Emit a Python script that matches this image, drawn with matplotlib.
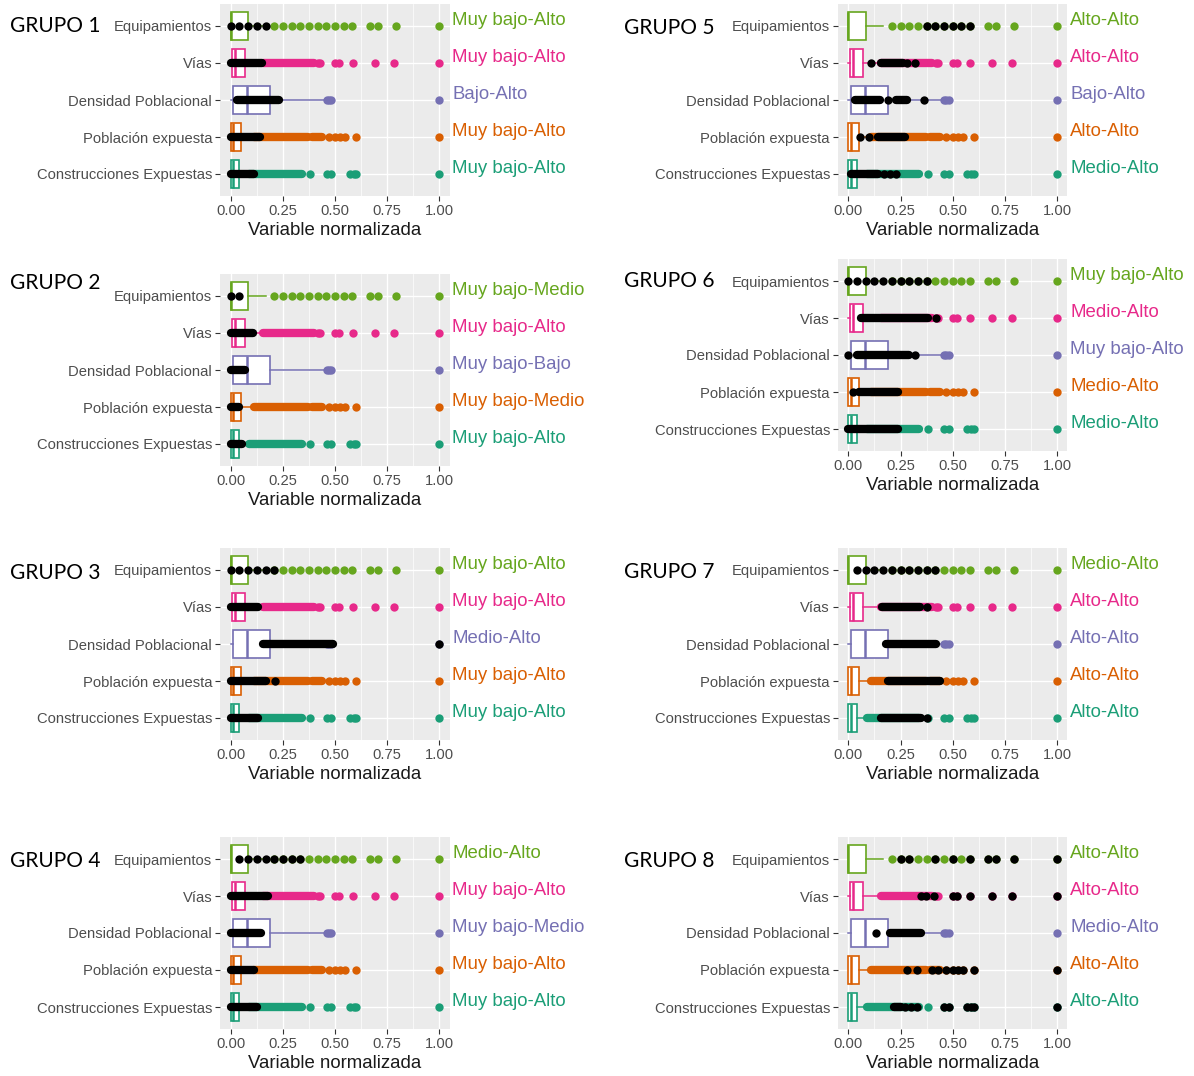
import matplotlib
matplotlib.use('Agg')
import matplotlib.pyplot as plt
from matplotlib.ticker import MultipleLocator

# variables (top to bottom) and their colours (Dark2)
variables = ["Equipamientos", "Vías", "Densidad Poblacional",
             "Población expuesta", "Construcciones Expuestas"]
var_colors = ["#66A61E", "#E7298A", "#7570B3", "#D95F02", "#1B9E77"]

# boxplot statistics of the normalised variables
box_q1 = [0.0, 0.008, 0.01, 0.0, 0.0]
box_med = [0.0, 0.02, 0.08, 0.01, 0.01]
box_q3 = [0.085, 0.07, 0.19, 0.05, 0.04]
whisk_lo = [0.0, 0.0, 0.0, 0.0, 0.0]
whisk_hi = [0.167, 0.15, 0.45, 0.11, 0.09]

# outliers: single values and dense stretches (start, end)
out_dots = [
    [0.208, 0.25, 0.292, 0.333, 0.375, 0.417, 0.458, 0.5, 0.542, 0.583,
     0.667, 0.708, 0.792, 1.0],
    [0.42, 0.43, 0.50, 0.52, 0.585, 0.69, 0.785, 1.0],
    [0.46, 0.47, 0.48, 1.0],
    [0.47, 0.50, 0.525, 0.55, 0.60, 1.0],
    [0.38, 0.46, 0.48, 0.57, 0.59, 0.60, 1.0],
]
out_runs = [
    [],
    [(0.155, 0.40)],
    [],
    [(0.11, 0.37), (0.39, 0.44)],
    [(0.09, 0.34)],
]

# members of each group (black): single values and dense stretches
g1_dots = [[0.0, 0.042, 0.083, 0.125, 0.167], [], [], [], []]
g1_runs = [[], [(0.0, 0.15)], [(0.03, 0.23)], [(0.0, 0.14)], [(0.0, 0.11)]]

g2_dots = [[0.0, 0.042], [], [], [], []]
g2_runs = [[], [(0.0, 0.105)], [(0.0, 0.07)], [(0.0, 0.04)], [(0.0, 0.055)]]

g3_dots = [[0.0, 0.042, 0.083, 0.125, 0.167, 0.208], [], [1.0], [0.21], []]
g3_runs = [[], [(0.0, 0.13)], [(0.155, 0.49)], [(0.0, 0.17)], [(0.0, 0.13)]]

g4_dots = [[0.042, 0.083, 0.125, 0.167, 0.208, 0.25, 0.292, 0.333], [], [], [], []]
g4_runs = [[], [(0.0, 0.18)], [(0.0, 0.145)], [(0.0, 0.11)], [(0.0, 0.125)]]

g5_dots = [[0.375, 0.417, 0.458, 0.5, 0.542, 0.583], [0.11, 0.28, 0.32],
           [0.19, 0.36], [0.055, 0.1], [0.17, 0.2, 0.23]]
g5_runs = [[], [(0.155, 0.26)], [(0.03, 0.15), (0.23, 0.28)],
           [(0.14, 0.27)], [(0.01, 0.14)]]

g6_dots = [[0.0, 0.042, 0.083, 0.125, 0.167, 0.208, 0.25, 0.292, 0.333, 0.375],
           [0.42], [0.0, 0.32], [0.02], []]
g6_runs = [[], [(0.06, 0.38)], [(0.04, 0.29)], [(0.05, 0.24)], [(0.0, 0.24)]]

g7_dots = [[0.042, 0.083, 0.125, 0.167, 0.208, 0.25, 0.292, 0.333, 0.375, 0.417],
           [0.375], [], [], [0.375]]
g7_runs = [[], [(0.16, 0.345)], [(0.18, 0.42)], [(0.19, 0.44)], [(0.155, 0.35)]]

g8_dots = [[0.25, 0.292, 0.417, 0.5, 0.583, 0.667, 0.708, 0.792, 1.0],
           [0.35, 0.37, 0.41, 0.5, 0.52, 0.585, 0.69, 0.785, 1.0],
           [0.13],
           [0.28, 0.33, 0.4, 0.43, 0.47, 0.5, 0.525, 0.55, 0.6, 1.0],
           [0.27, 0.3, 0.33, 0.46, 0.48, 0.57, 0.59, 0.6, 1.0]]
g8_runs = [[], [], [(0.2, 0.35)], [], [(0.22, 0.25)]]

# class labels shown at the right of each variable
g1_labels = ["Muy bajo-Alto", "Muy bajo-Alto", "Bajo-Alto", "Muy bajo-Alto", "Muy bajo-Alto"]
g2_labels = ["Muy bajo-Medio", "Muy bajo-Alto", "Muy bajo-Bajo", "Muy bajo-Medio", "Muy bajo-Alto"]
g3_labels = ["Muy bajo-Alto", "Muy bajo-Alto", "Medio-Alto", "Muy bajo-Alto", "Muy bajo-Alto"]
g4_labels = ["Medio-Alto", "Muy bajo-Alto", "Muy bajo-Medio", "Muy bajo-Alto", "Muy bajo-Alto"]
g5_labels = ["Alto-Alto", "Alto-Alto", "Bajo-Alto", "Alto-Alto", "Medio-Alto"]
g6_labels = ["Muy bajo-Alto", "Medio-Alto", "Muy bajo-Alto", "Medio-Alto", "Medio-Alto"]
g7_labels = ["Medio-Alto", "Alto-Alto", "Alto-Alto", "Alto-Alto", "Alto-Alto"]
g8_labels = ["Alto-Alto", "Alto-Alto", "Medio-Alto", "Alto-Alto", "Alto-Alto"]

group_names = ["GRUPO 1", "GRUPO 2", "GRUPO 3", "GRUPO 4",
               "GRUPO 5", "GRUPO 6", "GRUPO 7", "GRUPO 8"]

grupos = [
    (g1_dots, g1_runs, g1_labels), (g2_dots, g2_runs, g2_labels),
    (g3_dots, g3_runs, g3_labels), (g4_dots, g4_runs, g4_labels),
    (g5_dots, g5_runs, g5_labels), (g6_dots, g6_runs, g6_labels),
    (g7_dots, g7_runs, g7_labels), (g8_dots, g8_runs, g8_labels),
]

# layout in pixels
W, H = 1194, 1076
ROW = 37.0
AX_H = 5.2 * ROW
AX_W = 229.4
col_left = [220.3, 220.3, 220.3, 220.3, 838.0, 838.0, 838.0, 838.0]
first_row = [26, 296, 570, 859, 26, 281, 570, 859]
title_y = [26, 283, 573, 861, 28, 281, 572, 861]
title_x = [10, 10, 10, 10, 624, 624, 624, 624]

DOT = 6.0  # point diameter in pt

plt.rcParams['font.family'] = ['Liberation Sans', 'DejaVu Sans']

fig = plt.figure(figsize=(W / 100, H / 100), dpi=100)


def draw_values(ax, dots, runs, color, z):
    for i in range(len(variables)):
        for a, b in runs[i]:
            ax.plot([a, b], [i, i], color=color, lw=DOT,
                    solid_capstyle='round', zorder=z)
        if dots[i]:
            ax.plot(dots[i], [i] * len(dots[i]), 'o', color=color,
                    ms=DOT, mew=0, zorder=z)


for k, (dots, runs, labels) in enumerate(grupos):
    top = first_row[k] - 0.6 * ROW
    ax = fig.add_axes([col_left[k] / W, 1 - (top + AX_H) / H, AX_W / W, AX_H / H])
    ax.set_facecolor('#EBEBEB')
    for s in ax.spines.values():
        s.set_visible(False)

    stats = []
    for i in range(len(variables)):
        stats.append(dict(med=box_med[i], q1=box_q1[i], q3=box_q3[i],
                          whislo=whisk_lo[i], whishi=whisk_hi[i], fliers=[]))
    bp = ax.bxp(stats, positions=range(len(variables)), widths=0.75,
                orientation='horizontal', patch_artist=True,
                showcaps=False, showfliers=False, manage_ticks=False,
                zorder=3)
    for i, c in enumerate(var_colors):
        bp['boxes'][i].set_facecolor('white')
        bp['boxes'][i].set_edgecolor(c)
        bp['boxes'][i].set_linewidth(1.2)
        bp['medians'][i].set_color(c)
        bp['medians'][i].set_linewidth(1.8)
        for w in bp['whiskers'][2 * i:2 * i + 2]:
            w.set_color(c)
            w.set_linewidth(1.1)

    # outliers of the whole data set, then the members of the group
    for i, c in enumerate(var_colors):
        one_dots = [[] for _ in variables]
        one_runs = [[] for _ in variables]
        one_dots[i] = out_dots[i]
        one_runs[i] = out_runs[i]
        draw_values(ax, one_dots, one_runs, c, 4)
    draw_values(ax, dots, runs, 'black', 5)

    ax.set_xlim(-0.05, 1.05)
    ax.set_ylim(len(variables) - 0.4, -0.6)
    ax.set_yticks(range(len(variables)))
    ax.set_yticklabels(variables)
    ax.xaxis.set_major_locator(MultipleLocator(0.25))
    ax.xaxis.set_minor_locator(MultipleLocator(0.125))
    ax.set_xticks([0, 0.25, 0.5, 0.75, 1.0])
    ax.set_xticklabels(['0.00', '0.25', '0.50', '0.75', '1.00'])
    ax.grid(True, which='major', color='white', lw=1.0, zorder=0)
    ax.grid(True, which='minor', axis='x', color='white', lw=0.5, zorder=0)
    ax.set_axisbelow(True)
    ax.tick_params(axis='both', which='major', length=3.3, width=0.8,
                   color='#333333', labelcolor='#4D4D4D', labelsize=10.6, pad=2.5)
    ax.tick_params(axis='both', which='minor', length=0)
    ax.set_xlabel('Variable normalizada', fontsize=13.4, color='#1A1A1A', labelpad=3)

    for i, lab in enumerate(labels):
        ax.annotate(lab, xy=(1.0, i), xycoords=('axes fraction', 'data'),
                    xytext=(2, 4.3), textcoords='offset points',
                    ha='left', va='center', fontsize=13.4, color=var_colors[i])

    fig.text(title_x[k] / W, 1 - title_y[k] / H, group_names[k],
             family=['Lato', 'DejaVu Sans'], fontsize=15, color='black',
             ha='left', va='center')

fig.savefig('out.png', dpi=100)
